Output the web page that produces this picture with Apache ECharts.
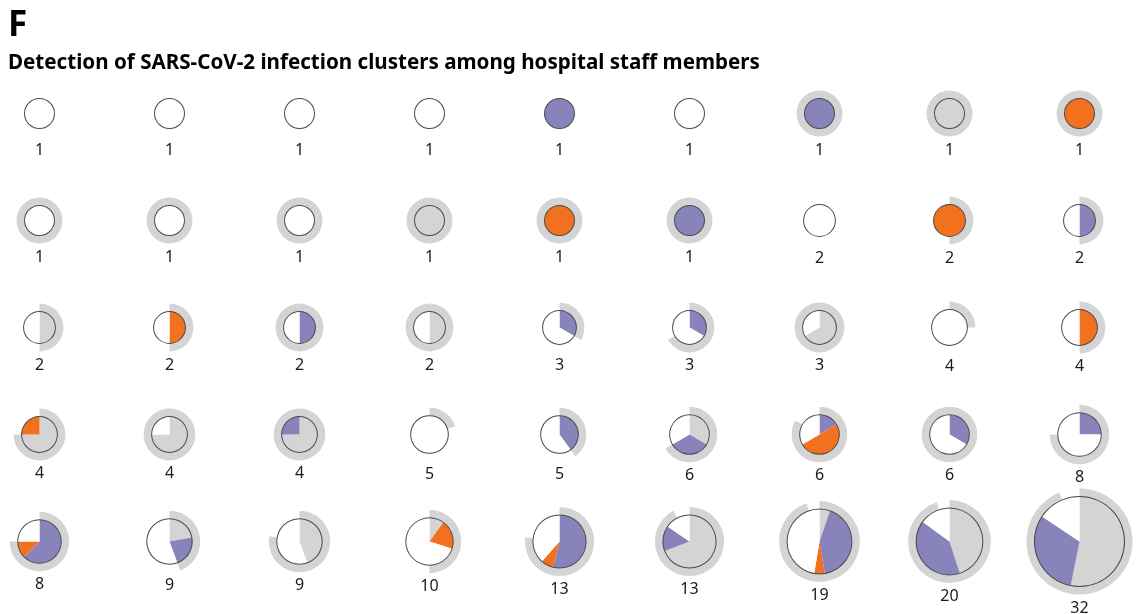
<!DOCTYPE html>
<html>
<head>
<meta charset="utf-8">
<title>SARS-CoV-2 infection clusters</title>
<script src="https://cdn.jsdelivr.net/npm/echarts@6/dist/echarts.min.js"></script>
<style>
  html, body { margin: 0; padding: 0; background: #fff; }
  #chart { width: 1137px; height: 614px; }
</style>
</head>
<body>
<div id="chart"></div>
<script>
// staff members per cluster (label under each circle)
const sizes        = [1, 1, 1, 1, 1, 1, 1, 1, 1,
                      1, 1, 1, 1, 1, 1, 2, 2, 2,
                      2, 2, 2, 2, 3, 3, 3, 4, 4,
                      4, 4, 4, 5, 5, 6, 6, 6, 8,
                      8, 9, 9, 10, 13, 13, 19, 20, 32]
// inner pie, clockwise from 12 o'clock: gray, purple, orange, white
const grayCounts   = [0, 0, 0, 0, 0, 0, 0, 1, 0,
                      0, 0, 0, 1, 0, 0, 0, 0, 0,
                      1, 0, 0, 1, 0, 0, 2, 0, 0,
                      3, 3, 3, 0, 0, 2, 0, 0, 0,
                      0, 2, 4, 1, 0, 9, 1, 9, 17]
const purpleCounts = [0, 0, 0, 0, 1, 0, 1, 0, 0,
                      0, 0, 0, 0, 0, 1, 0, 0, 1,
                      0, 0, 1, 0, 1, 1, 0, 0, 0,
                      0, 0, 1, 0, 2, 2, 1, 2, 2,
                      5, 2, 0, 0, 7, 2, 8, 8, 10]
const orangeCounts = [0, 0, 0, 0, 0, 0, 0, 0, 1,
                      0, 0, 0, 0, 1, 0, 0, 2, 0,
                      0, 1, 0, 0, 0, 0, 0, 0, 2,
                      1, 0, 0, 0, 0, 0, 3, 0, 0,
                      1, 0, 0, 2, 1, 0, 1, 0, 0]
const whiteCounts  = [1, 1, 1, 1, 0, 1, 0, 0, 0,
                      1, 1, 1, 0, 0, 0, 2, 0, 1,
                      1, 1, 1, 1, 2, 2, 1, 4, 2,
                      0, 1, 0, 5, 3, 2, 2, 4, 6,
                      2, 5, 5, 7, 5, 2, 9, 3, 5]
// outer gray arc, clockwise from 12 o'clock
const ringCounts   = [0, 0, 0, 0, 0, 0, 1, 1, 1,
                      1, 1, 1, 1, 1, 1, 0, 1, 1,
                      1, 1, 2, 2, 1, 2, 3, 1, 2,
                      3, 4, 4, 1, 2, 4, 5, 6, 6,
                      6, 4, 7, 5, 10, 12, 18, 19, 30]

const GRAY = '#d4d4d4'
const PURPLE = '#8983bc'
const ORANGE = '#f1711e'
const WHITE = '#ffffff'
const OUTLINE = '#4a4a4a'

const COLS = 9
const X0 = 39.5, DX = 130
const Y0 = 113.5, DY = 107
const RING_W = 8

function radiusOf (n) {
  return 14 + 0.97 * n
}

const series = []
const labels = []
sizes.forEach((n, i) => {
  const cx = X0 + (i % COLS) * DX
  const cy = Y0 + Math.floor(i / COLS) * DY
  const r = radiusOf(n)
  const common = {
    type: 'pie',
    silent: true,
    animation: false,
    center: [cx, cy],
    startAngle: 90,
    clockwise: true,
    label: { show: false },
    labelLine: { show: false }
  }
  // outer arc
  series.push(Object.assign({}, common, {
    radius: [r, r + RING_W],
    data: [
      { name: 'arc', value: ringCounts[i], itemStyle: { color: GRAY } },
      { name: 'rest', value: n - ringCounts[i], itemStyle: { color: 'rgba(0,0,0,0)' } }
    ]
  }))
  // inner pie
  series.push(Object.assign({}, common, {
    radius: [0, r],
    data: [
      { name: 'gray', value: grayCounts[i], itemStyle: { color: GRAY } },
      { name: 'purple', value: purpleCounts[i], itemStyle: { color: PURPLE } },
      { name: 'orange', value: orangeCounts[i], itemStyle: { color: ORANGE } },
      { name: 'white', value: whiteCounts[i], itemStyle: { color: WHITE } }
    ]
  }))
  // thin outline round the pie
  series.push(Object.assign({}, common, {
    radius: [r - 0.5, r + 0.5],
    data: [{ name: 'outline', value: 1, itemStyle: { color: OUTLINE } }]
  }))
  labels.push({
    type: 'text',
    silent: true,
    x: cx,
    y: cy + r + 21.5,
    style: {
      text: String(n),
      align: 'center',
      verticalAlign: 'middle',
      fontSize: 16,
      fontFamily: '"Noto Sans", sans-serif',
      fill: '#1a1a1a'
    }
  })
})

const myChart = echarts.init(document.getElementById('chart'), null, { renderer: 'canvas' })
myChart.setOption({
  backgroundColor: '#fff',
  animation: false,
  title: [
    {
      text: 'F',
      left: 8,
      top: 9,
      padding: 0,
      textStyle: { fontSize: 35, fontWeight: 'bold', color: '#000', fontFamily: '"Noto Sans", sans-serif' }
    },
    {
      text: 'Detection of SARS-CoV-2 infection clusters among hospital staff members',
      left: 8,
      top: 53,
      padding: 0,
      textStyle: { fontSize: 20.6, fontWeight: 'bold', color: '#000', fontFamily: '"Noto Sans", sans-serif' }
    }
  ],
  graphic: labels,
  series: series
})
window.addEventListener('resize', () => myChart.resize())
</script>
</body>
</html>
